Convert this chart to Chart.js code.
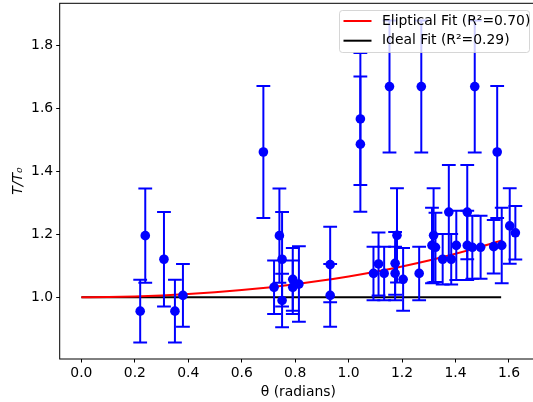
<!DOCTYPE html>
<html>
<head>
<meta charset="utf-8">
<script src="https://cdn.jsdelivr.net/npm/chart.js@4.4.1/dist/chart.umd.min.js"></script>
<style>
  html, body { margin: 0; padding: 0; background: #fff; overflow: hidden; }
  #pendulumChart { display: block; }
</style>
</head>
<body>
<canvas id="pendulumChart" width="537" height="402"></canvas>
<script>
/* T/T0 vs angle - measured points with error bars plus two fit curves */

const thetaVals = [0.220, 0.239, 0.309, 0.350, 0.380, 0.681, 0.721, 0.741, 0.751, 0.751,
  0.791, 0.791, 0.814, 0.931, 0.931, 1.044, 1.044, 1.093, 1.112, 1.133,
  1.153, 1.174, 1.174, 1.181, 1.204, 1.264, 1.272, 1.312, 1.318, 1.325,
  1.352, 1.375, 1.384, 1.403, 1.444, 1.444, 1.463, 1.472, 1.494, 1.543,
  1.556, 1.573, 1.603, 1.624];
const ratioVals = [0.956, 1.196, 1.121, 0.956, 1.006, 1.462, 1.032, 1.196, 1.121, 0.990,
  1.057, 1.032, 1.042, 1.104, 1.006, 1.567, 1.487, 1.076, 1.106, 1.076,
  1.670, 1.108, 1.076, 1.197, 1.057, 1.076, 1.670, 1.165, 1.197, 1.159,
  1.121, 1.271, 1.121, 1.165, 1.271, 1.165, 1.159, 1.670, 1.159, 1.161,
  1.462, 1.165, 1.227, 1.205];
const ratioErr = [0.10, 0.15, 0.15, 0.10, 0.10, 0.21, 0.085, 0.15, 0.15, 0.085,
  0.10, 0.085, 0.12, 0.12, 0.10, 0.21, 0.215, 0.085, 0.10, 0.085,
  0.21, 0.10, 0.085, 0.15, 0.10, 0.085, 0.21, 0.12, 0.15, 0.11,
  0.08, 0.15, 0.08, 0.11, 0.15, 0.11, 0.10, 0.21, 0.10, 0.085,
  0.21, 0.12, 0.12, 0.085];

// fit curves
const fitTheta = [0, 0.1, 0.2, 0.3, 0.4, 0.5, 0.6, 0.7, 0.8, 0.9, 1.0, 1.1, 1.2, 1.3, 1.4, 1.5, 1.5708];
const ellipticalFit = [1.000, 1.0006, 1.0025, 1.0057, 1.0101, 1.0159, 1.0230, 1.0315, 1.0415,
  1.0531, 1.0663, 1.0813, 1.0982, 1.1171, 1.1385, 1.1620, 1.1803];
const idealTheta = [0, 1.5708];
const idealFit = [1.0, 1.0];

const xTicks = [0.0, 0.2, 0.4, 0.6, 0.8, 1.0, 1.2, 1.4, 1.6];
const yTicks = [1.0, 1.2, 1.4, 1.6, 1.8];

const FONT = 'DejaVu Sans';
const FONT_SIZE = 13.9;

const toXY = (xs, ys) => xs.map((x, i) => ({ x, y: ys[i] }));

// error bars, drawn just before the scatter markers
const errorBars = {
  id: 'errorBars',
  beforeDatasetDraw(chart, args) {
    if (chart.data.datasets[args.index].label !== 'data') return;
    const { ctx, scales: { x, y }, chartArea } = chart;
    ctx.save();
    ctx.beginPath();
    ctx.rect(chartArea.left, chartArea.top, chartArea.width, chartArea.height);
    ctx.clip();
    ctx.strokeStyle = '#0000ff';
    ctx.lineWidth = 2;
    const cap = 6.9;
    thetaVals.forEach((t, i) => {
      const px = x.getPixelForValue(t);
      const top = y.getPixelForValue(ratioVals[i] + ratioErr[i]);
      const bot = y.getPixelForValue(ratioVals[i] - ratioErr[i]);
      ctx.beginPath();
      ctx.moveTo(px, top); ctx.lineTo(px, bot);
      ctx.moveTo(px - cap, top); ctx.lineTo(px + cap, top);
      ctx.moveTo(px - cap, bot); ctx.lineTo(px + cap, bot);
      ctx.stroke();
    });
    ctx.restore();
  },
};

// axes frame and legend box, matplotlib style
const frameAndLegend = {
  id: 'frameAndLegend',
  afterDraw(chart) {
    const { ctx, chartArea: a } = chart;
    ctx.save();
    ctx.strokeStyle = '#000';
    ctx.lineWidth = 1;
    ctx.strokeRect(a.left, a.top, a.right - a.left, a.bottom - a.top);

    // legend
    const bx = 339.5, by = 10.5, bw = 190, bh = 42;
    ctx.fillStyle = 'rgba(255,255,255,0.8)';
    ctx.strokeStyle = 'rgba(204,204,204,0.8)';
    ctx.beginPath();
    ctx.roundRect(bx, by, bw, bh, 3);
    ctx.fill();
    ctx.stroke();

    const items = chart.data.datasets.filter((d) => d.label !== 'data');
    ctx.font = `${FONT_SIZE}px "${FONT}"`;
    ctx.textBaseline = 'middle';
    ctx.textAlign = 'left';
    items.forEach((d, i) => {
      const cy = 21 + i * 19.7;
      ctx.strokeStyle = d.borderColor;
      ctx.lineWidth = 2;
      ctx.beginPath();
      ctx.moveTo(343.5, cy); ctx.lineTo(371.5, cy);
      ctx.stroke();
      ctx.fillStyle = '#000';
      ctx.fillText(d.label, 382, cy);
    });
    ctx.restore();
  },
};

const canvas = document.getElementById('pendulumChart');

new Chart(canvas.getContext('2d'), {
  type: 'scatter',
  data: {
    datasets: [
      {
        type: 'line',
        label: 'Eliptical Fit (R\u00b2=0.70)',
        data: toXY(fitTheta, ellipticalFit),
        borderColor: '#ff0000',
        borderWidth: 2,
        pointRadius: 0,
        cubicInterpolationMode: 'monotone',
        order: 1,
      },
      {
        type: 'line',
        label: 'Ideal Fit (R\u00b2=0.29)',
        data: toXY(idealTheta, idealFit),
        borderColor: '#000000',
        borderWidth: 2,
        pointRadius: 0,
        order: 2,
      },
      {
        label: 'data',
        data: toXY(thetaVals, ratioVals),
        backgroundColor: '#0000ff',
        borderWidth: 0,
        pointRadius: 4.8,
        order: 0,
      },
    ],
  },
  options: {
    responsive: false,
    animation: false,
    events: [],
    layout: { autoPadding: false, padding: { top: 3.3, left: 0, right: 0, bottom: 0 } },
    plugins: {
      legend: { display: false },
      tooltip: { enabled: false },
    },
    scales: {
      x: {
        type: 'linear',
        min: -0.0812,
        max: 1.705,
        afterFit(scale) {
          scale.height = 43;
          scale.paddingLeft = 0;
          scale.paddingRight = 0;
        },
        afterBuildTicks(scale) { scale.ticks = xTicks.map((v) => ({ value: v })); },
        grid: { drawOnChartArea: false, drawTicks: true, tickLength: 3.5, color: '#000', tickWidth: 1 },
        border: { display: false },
        ticks: {
          color: '#000',
          padding: 3,
          maxRotation: 0,
          font: { family: FONT, size: FONT_SIZE },
          callback: (v) => Number(v).toFixed(1),
        },
        title: {
          display: true,
          text: '\u03b8 (radians)',
          color: '#000',
          font: { family: FONT, size: FONT_SIZE },
          padding: { top: 2, bottom: 1 },
        },
      },
      y: {
        type: 'linear',
        min: 0.8038,
        max: 1.9348,
        afterFit(scale) {
          scale.width = 59.7;
          scale.paddingTop = 0;
          scale.paddingBottom = 0;
        },
        afterBuildTicks(scale) { scale.ticks = yTicks.map((v) => ({ value: v })); },
        grid: { drawOnChartArea: false, drawTicks: true, tickLength: 3.5, color: '#000', tickWidth: 1 },
        border: { display: false },
        ticks: {
          color: '#000',
          padding: 3,
          font: { family: FONT, size: FONT_SIZE },
          callback: (v) => Number(v).toFixed(1),
        },
        title: {
          display: true,
          text: 'T/T\u2080',
          color: '#000',
          font: { family: FONT, size: FONT_SIZE, style: 'italic' },
          padding: { top: 9.7, bottom: 4 },
        },
      },
    },
  },
  plugins: [errorBars, frameAndLegend],
});
</script>
</body>
</html>
